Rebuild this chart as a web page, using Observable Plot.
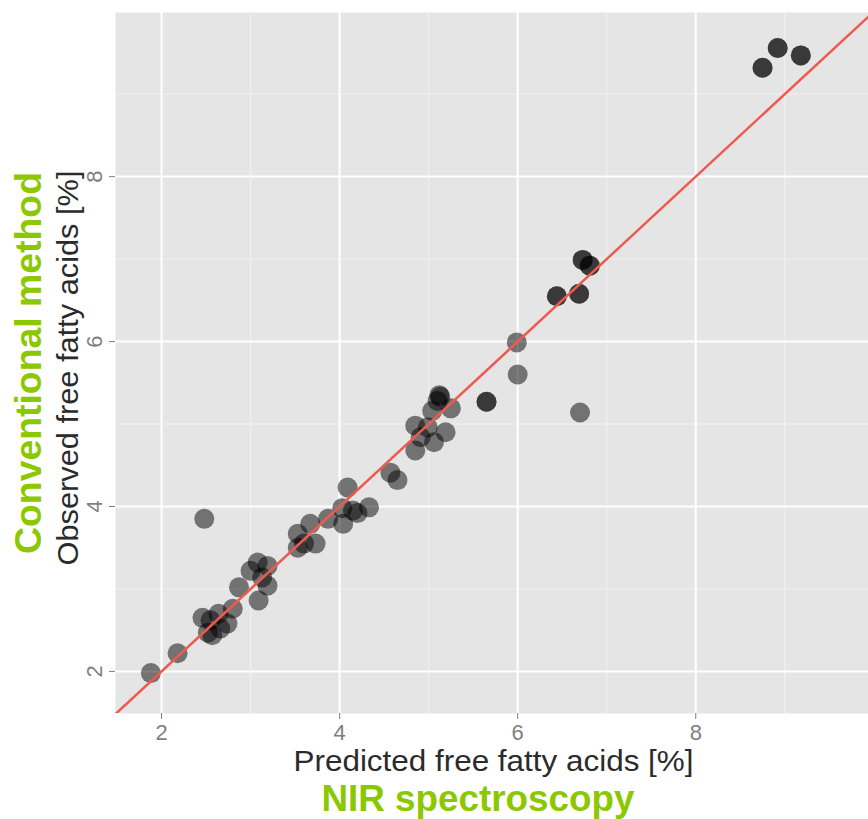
<!DOCTYPE html>
<html><head><meta charset="utf-8">
<script src="https://cdn.jsdelivr.net/npm/d3@7"></script>
<script src="https://cdn.jsdelivr.net/npm/@observablehq/plot@0.6"></script>
<style>body{margin:0;background:#fff}</style>
</head><body><div id="chart"></div>
<script>
const predicted = [1.88, 2.18, 2.48, 2.46, 2.64, 2.80, 2.74, 2.55, 2.52, 2.66, 2.57, 2.87, 3.08, 3.19, 3.00, 3.13, 3.19, 3.09,
  3.53, 3.53, 3.60, 3.73, 3.67, 3.87, 4.09, 4.03, 4.15, 4.04, 4.20, 4.33, 4.57, 4.65, 4.85, 4.99, 5.19, 4.91, 5.06, 4.85,
  5.12, 5.10, 5.04, 5.25, 5.65, 5.99, 6.00, 6.70, 6.44, 6.69, 6.73, 6.81, 8.75, 8.92, 9.18,
  5.13, 5.65, 6.44, 6.69, 6.73, 6.81, 8.75, 8.92, 9.18];
const observed = [1.98, 2.22, 3.85, 2.65, 2.70, 2.76, 2.58, 2.62, 2.47, 2.52, 2.44, 3.02, 3.32, 3.28, 3.22, 3.14, 3.04, 2.86,
  3.67, 3.50, 3.55, 3.55, 3.79, 3.85, 4.23, 3.98, 3.95, 3.79, 3.92, 3.99, 4.41, 4.32, 4.98, 4.96, 4.90, 4.84, 4.78, 4.68,
  5.35, 5.28, 5.16, 5.19, 5.27, 5.99, 5.60, 5.14, 6.55, 6.58, 6.99, 6.92, 9.32, 9.56, 9.47,
  5.33, 5.27, 6.55, 6.58, 6.99, 6.92, 9.32, 9.56, 9.47];
const majorTicks = [2, 4, 6, 8];
const minorTicks = [3, 5, 7, 9];
const xDomain = [1.483, 9.94];
const yDomain = [1.49, 9.99];
const identityLine = [1.483, 9.94];
const xTitle = "Predicted free fatty acids [%]";
const yTitle = "Observed free fatty acids [%]";
const xCaption = "NIR spectroscopy";
const yCaption = "Conventional method";

const points = predicted.map((p, i) => ({predicted: p, observed: observed[i]}));
const green = "#8cc800";

const chart = Plot.plot({
  width: 868, height: 819,
  marginLeft: 115, marginRight: 0, marginTop: 12, marginBottom: 106,
  style: {fontFamily: "'Liberation Sans', Arial, Helvetica, sans-serif", background: "white"},
  x: {domain: xDomain},
  y: {domain: yDomain},
  marks: [
    Plot.frame({fill: "#e5e5e5", stroke: null}),
    Plot.gridX(minorTicks, {stroke: "#f2f2f2", strokeOpacity: 1, strokeWidth: 1}),
    Plot.gridY(minorTicks, {stroke: "#f2f2f2", strokeOpacity: 1, strokeWidth: 1}),
    Plot.gridX(majorTicks, {stroke: "white", strokeOpacity: 1, strokeWidth: 2}),
    Plot.gridY(majorTicks, {stroke: "white", strokeOpacity: 1, strokeWidth: 2}),
    Plot.axisX(majorTicks, {tickSize: 6, tickPadding: 5, fontSize: 22, color: "#7f7f7f", label: null}),
    Plot.axisY(majorTicks, {tickSize: 6, tickFormat: () => "", label: null, color: "#7f7f7f"}),
    Plot.text(majorTicks, {y: d => d, frameAnchor: "left", dx: -21, rotate: -90, text: d => String(d),
      fontSize: 22, fill: "#7f7f7f", textAnchor: "middle", lineAnchor: "middle"}),
    Plot.dot(points, {x: "predicted", y: "observed", r: 10, fill: "black", fillOpacity: 0.5, stroke: null}),
    Plot.line(identityLine, {x: d => d, y: d => d, stroke: "#ee5a4f", strokeWidth: 2.5, clip: true}),
    Plot.text([xTitle], {frameAnchor: "bottom", dx: 1.5, dy: 48.5, fontSize: 29, fill: "#2b2b2b",
      textAnchor: "middle", lineAnchor: "middle", className: "xtitle"}),
    Plot.text([xCaption], {frameAnchor: "bottom", dx: -14, dy: 86, fontSize: 36, fontWeight: "bold", fill: green,
      textAnchor: "middle", lineAnchor: "middle", className: "xcaption"}),
    Plot.text([yTitle], {frameAnchor: "left", dx: -47, dy: 5, rotate: -90, fontSize: 29, fill: "#2b2b2b",
      textAnchor: "middle", lineAnchor: "middle", className: "ytitle"}),
    Plot.text([yCaption], {frameAnchor: "left", dx: -86, dy: 0, rotate: -90, fontSize: 36, fontWeight: "bold", fill: green,
      textAnchor: "middle", lineAnchor: "middle", className: "ycaption"})
  ]
});

const fit = {xtitle: 400, ytitle: 395, xcaption: 313, ycaption: 382};
for (const [cls, len] of Object.entries(fit)) {
  chart.querySelectorAll("." + cls + " text").forEach(t => {
    t.setAttribute("textLength", len);
    t.setAttribute("lengthAdjust", "spacingAndGlyphs");
  });
}
document.getElementById("chart").appendChild(chart);
</script>
</body></html>
